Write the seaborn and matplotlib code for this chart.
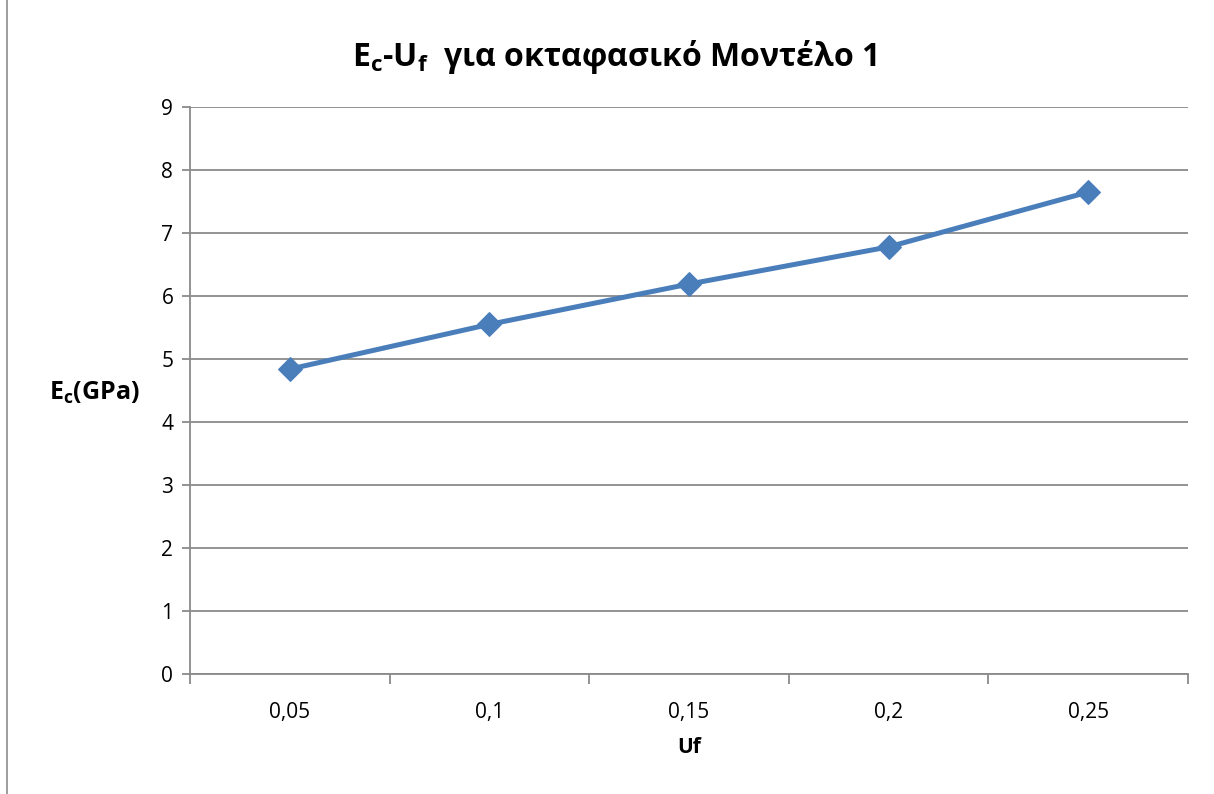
import pandas as pd
import matplotlib.pyplot as plt
import seaborn as sns
from matplotlib.patches import Rectangle

# Dedomena tou diagrammatos
uf_labels = ['0,05', '0,1', '0,15', '0,2', '0,25']
ec_values = [4.84, 5.55, 6.19, 6.78, 7.65]
y_ticks = [0, 1, 2, 3, 4, 5, 6, 7, 8, 9]

df = pd.DataFrame({'Uf': uf_labels, 'Ec': ec_values})

sns.set_style('white')
plt.rcParams['font.family'] = ['Open Sans', 'DejaVu Sans']
plt.rcParams['mathtext.fontset'] = 'custom'
plt.rcParams['mathtext.rm'] = 'Open Sans'
plt.rcParams['mathtext.bf'] = 'Open Sans:bold'
plt.rcParams['text.color'] = 'black'
plt.rcParams['xtick.labelcolor'] = 'black'
plt.rcParams['ytick.labelcolor'] = 'black'

fig = plt.figure(figsize=(12.14, 7.94), dpi=100)
ax = fig.add_axes([0.1565, 0.1511, 0.8221, 0.7141])

# Plaisio gyrw apo to diagramma
fig.patches.append(Rectangle((0.006, -0.01), 1.2, 1.2, transform=fig.transFigure,
                             fill=False, edgecolor='#8c8c8c', linewidth=1.2))

line_color = '#4A7EBB'
sns.lineplot(data=df, x='Uf', y='Ec', sort=False, ax=ax, color=line_color,
             linewidth=3.6, marker='D', markersize=12, markeredgecolor=line_color,
             markerfacecolor=line_color)

ax.set_ylim(0, 9)
ax.set_xlim(-0.5, len(uf_labels) - 0.5)
ax.set_yticks(y_ticks)
ax.set_yticklabels([str(t) for t in y_ticks])
ax.set_xticks(range(len(uf_labels)))
ax.set_xticklabels(uf_labels)
ax.set_xticks([i - 0.5 for i in range(len(uf_labels) + 1)], minor=True)

ax.grid(axis='y', color='#8a8a8a', linewidth=1.3)
ax.set_axisbelow(True)
for s in ['top', 'right']:
    ax.spines[s].set_visible(False)
for s in ['left', 'bottom']:
    ax.spines[s].set_color('#8a8a8a')
    ax.spines[s].set_linewidth(1.3)

ax.tick_params(axis='y', which='major', length=6, color='#8a8a8a', width=1.3,
               labelsize=15, pad=6, left=True, labelcolor='black')
ax.tick_params(axis='x', which='major', length=0, labelsize=15, pad=20, labelcolor='black')
ax.tick_params(axis='x', which='minor', length=7, color='#8a8a8a', width=1.3, bottom=True)

ax.set_xlabel('Uf', fontsize=15, fontweight='bold', labelpad=10, color='black')
ax.set_ylabel('')
fig.text(0.078, 0.505, r'$\mathbf{E_c}$(GPa)', fontsize=18, fontweight='bold',
         ha='center', va='center', color='black')
fig.text(0.506, 0.928, r'$\mathbf{E_c}$-$\mathbf{U_f}$  για οκταφασικό Μοντέλο 1',
         fontsize=23, fontweight='bold', ha='center', va='center', color='black')

fig.savefig('out.png', dpi=100)
